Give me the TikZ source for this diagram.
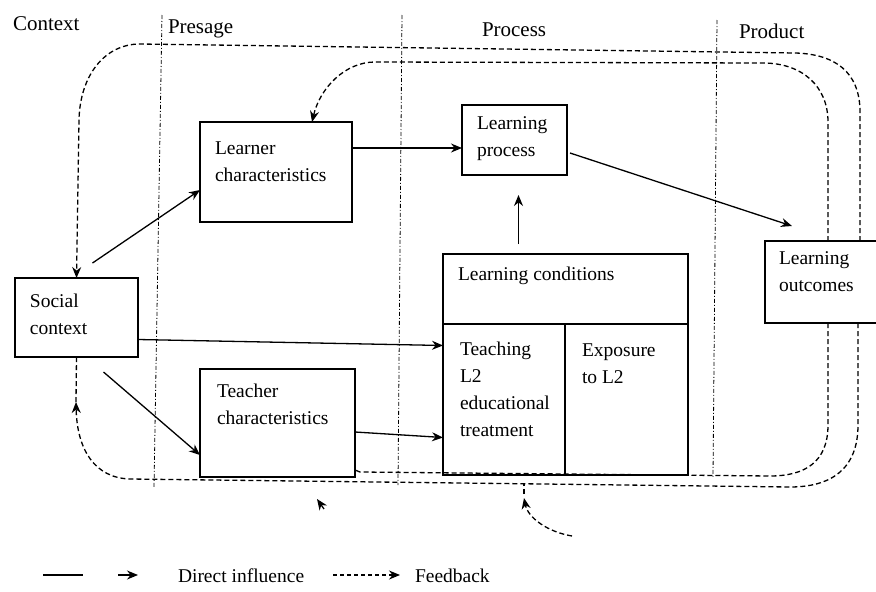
\documentclass[tikz,border=0pt]{standalone}
\usepackage{fontspec}
\setmainfont{Liberation Serif}
\usetikzlibrary{arrows.meta,calc}
\begin{document}
\begin{tikzpicture}[x=1pt,y=-1pt,
  box/.style={draw, line width=1.3pt, inner sep=0pt, outer sep=0pt, anchor=north west},
  txt/.style={font=\fontsize{19.5}{27}\selectfont, inner sep=0pt, outer sep=0pt, anchor=north west, align=left},
  hdr/.style={font=\fontsize{21}{25}\selectfont, inner sep=0pt, outer sep=0pt, anchor=base west},
  lgd/.style={font=\fontsize{19.5}{24}\selectfont, inner sep=0pt, outer sep=0pt, anchor=base west},
  arr/.style={line width=1.3pt, -{Stealth[length=11pt,width=9pt]}},
  fb/.style={line width=1.3pt, dash pattern=on 5pt off 3pt},
  fbarr/.style={fb, -{Stealth[length=11pt,width=9pt]}},
  zone/.style={line width=0.8pt, dash pattern=on 4pt off 2pt on 1pt off 2pt}
]
\useasboundingbox (0,0) rectangle (876,592);
\fill[white] (0,0) rectangle (876,592);

% zone separators
\coordinate (z1t) at (162,15);  \coordinate (z1b) at (154,487);
\coordinate (z2t) at (402,15);  \coordinate (z2b) at (398,485);
\coordinate (z3t) at (717,20);  \coordinate (z3b) at (713,478);
\draw[zone] (z1t) -- (z1b);
\draw[zone] (z2t) -- (z2b);
\draw[zone] (z3t) -- (z3b);

% headers
\node[hdr] (hContext) at (13,30) {Context};
\node[hdr] (hPresage) at (168,33) {Presage};
\node[hdr] (hProcess) at (482,36) {Process};
\node[hdr] (hProduct) at (739,38) {Product};

% boxes
\node[box, minimum width=123pt, minimum height=79pt] (social) at (15,278) {};
\node[box, minimum width=152pt, minimum height=100pt] (learner) at (200,122) {};
\node[box, minimum width=105pt, minimum height=70pt] (process) at (462,105) {};
\node[box, minimum width=155pt, minimum height=108pt] (teacher) at (200,369) {};
\node[box, minimum width=245pt, minimum height=70pt] (conditions) at (443,254) {};
\node[box, minimum width=122pt, minimum height=151pt] (teaching) at (443,324) {};
\node[box, minimum width=123pt, minimum height=151pt] (exposure) at (565,324) {};
\node[box, minimum width=125pt, minimum height=82pt] (outcomes) at (765,241) {};

% box texts
\node[txt] (tSocial) at (30,294) {Social\\context};
\node[txt] (tLearner) at (215,142) {Learner\\characteristics};
\node[txt] (tProcess) at (477,117) {Learning\\process};
\node[txt] (tTeacher) at (217,384) {Teacher\\characteristics};
\node[txt] (tConditions) at (458,267) {Learning conditions};
\node[txt] (tTeaching) at (460,342) {Teaching\\L2\\educational\\treatment};
\node[txt] (tExposure) at (582,344) {Exposure\\to L2};
\node[txt] (tOutcomes) at (779,252) {Learning\\outcomes};

% direct influences
\draw[arr] ($(social.north)+(16,-15)$) -- ($(learner.west)+(0,18)$);
\draw[arr] ($(social.south)+(27,15)$) -- ($(teacher.west)+(0,32)$);
\draw[arr] ($(social.east)+(0,22)$) -- ($(teaching.west)+(0,-54)$);
\draw[arr] ($(learner.east)+(0,-24)$) -- ($(process.west)+(0,8)$);
\draw[arr] ($(teacher.east)+(0,9)$) -- ($(teaching.west)+(0,38)$);
\draw[arr] ($(conditions.north)+(-47,-10)$) -- ($(process.south)+(4,20)$);
\draw[arr] ($(process.east)+(3,13)$) -- ($(outcomes.north west)+(27,-15)$);

% feedback loops
\draw[fbarr] ($(outcomes.north west)+(95,0)$) -- (860,112)
  .. controls (860,72) and (835,54) .. (795,53) -- (140,44)
  .. controls (105,44) and (80,75) .. (79,120) -- (social.north);
\draw[fbarr] ($(outcomes.north west)+(63,0)$) -- (828,122)
  .. controls (828,86) and (802,63) .. (763,63) -- (375,62)
  .. controls (345,62) and (320,88) .. ($(learner.north)+(36,0)$);
\coordinate (fbmid) at (76,402);
\draw[fbarr] ($(outcomes.south west)+(93,0)$) -- (858,425)
  .. controls (858,470) and (830,487) .. (790,487) -- (130,479)
  .. controls (95,478) and (77,450) .. (fbmid);
\draw[fb] (fbmid) -- (social.south);
\draw[fb] ($(outcomes.south west)+(63,0)$) -- (828,425)
  .. controls (828,462) and (805,476) .. (770,476) -- (360,472)
  -- ($(teacher.south east)+(0,-7)$);

% stray marks below
\coordinate (sa1) at (324,509); \coordinate (sa2) at (317,499);
\draw[arr] (sa1) -- (sa2);
\coordinate (sb1) at (572,536); \coordinate (sb2) at (524,498);
\draw[fbarr] (sb1) .. controls (548,532) and (528,518) .. (sb2);
\coordinate (sc1) at (524,494); \coordinate (sc2) at (524,483);
\draw[fb] (sc1) -- (sc2);

% legend
\coordinate (ls1) at (43,575); \coordinate (ls2) at (83,575);
\draw[line width=1.3pt] (ls1) -- (ls2);
\coordinate (la1) at (118,575); \coordinate (la2) at (138,575);
\draw[arr] (la1) -- (la2);
\node[lgd] (lgDirect) at (178,582) {Direct influence};
\coordinate (lf1) at (333,575); \coordinate (lf2) at (400,575);
\draw[line width=1.3pt, dash pattern=on 4pt off 3pt, -{Stealth[length=11pt,width=9pt]}] (lf1) -- (lf2);
\node[lgd] (lgFeedback) at (415,582) {Feedback};
\end{tikzpicture}
\end{document}
